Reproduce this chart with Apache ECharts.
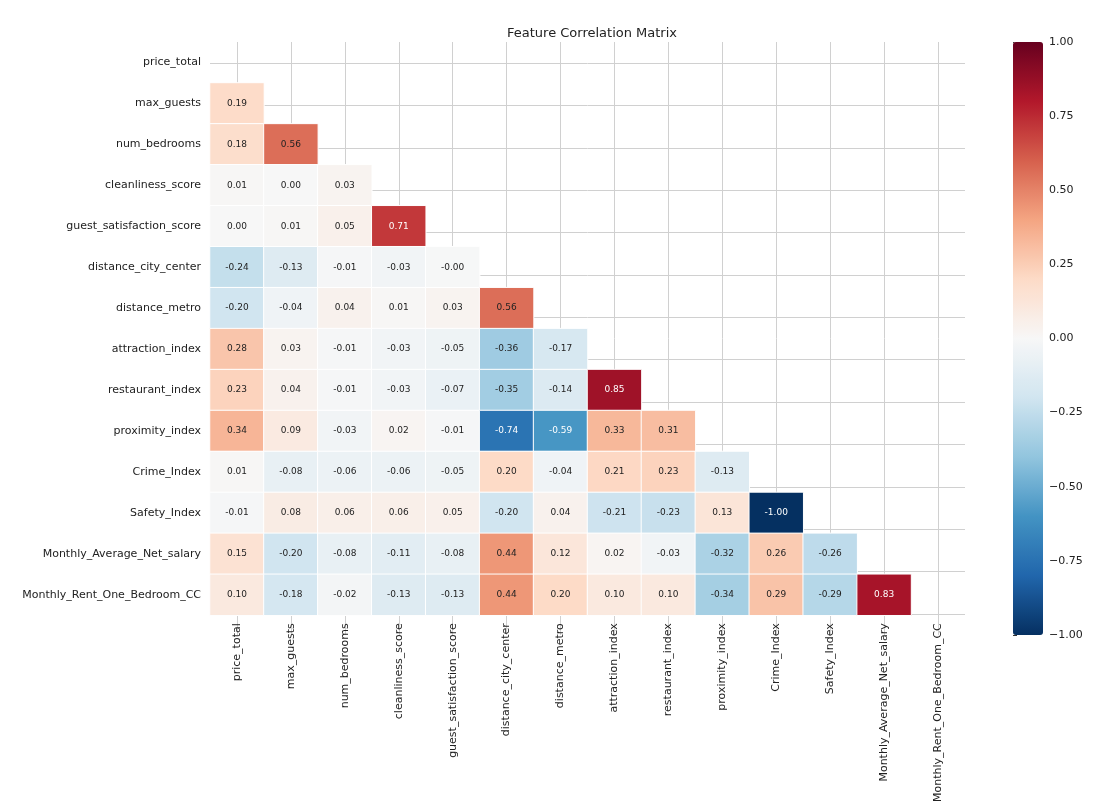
<!DOCTYPE html>
<html><head><meta charset="utf-8">
<script src="https://cdn.jsdelivr.net/npm/echarts@6/dist/echarts.min.js"></script>
<style>html,body{margin:0;padding:0;background:#fff}#c{width:1106px;height:805px}</style>
</head><body><div id="c"></div>
<script>
const features = ["price_total","max_guests","num_bedrooms","cleanliness_score","guest_satisfaction_score","distance_city_center","distance_metro","attraction_index","restaurant_index","proximity_index","Crime_Index","Safety_Index","Monthly_Average_Net_salary","Monthly_Rent_One_Bedroom_CC"];
const lowerTriangle = [
 [],
 [0.19],
 [0.18,0.56],
 [0.01,0.00,0.03],
 [0.00,0.01,0.05,0.71],
 [-0.24,-0.13,-0.01,-0.03,-0.004],
 [-0.20,-0.04,0.04,0.01,0.03,0.56],
 [0.28,0.03,-0.01,-0.03,-0.05,-0.36,-0.17],
 [0.23,0.04,-0.01,-0.03,-0.07,-0.35,-0.14,0.85],
 [0.34,0.09,-0.03,0.02,-0.01,-0.74,-0.59,0.33,0.31],
 [0.01,-0.08,-0.06,-0.06,-0.05,0.20,-0.04,0.21,0.23,-0.13],
 [-0.01,0.08,0.06,0.06,0.05,-0.20,0.04,-0.21,-0.23,0.13,-1.00],
 [0.15,-0.20,-0.08,-0.11,-0.08,0.44,0.12,0.02,-0.03,-0.32,0.26,-0.26],
 [0.10,-0.18,-0.02,-0.13,-0.13,0.44,0.20,0.10,0.10,-0.34,0.29,-0.29,0.83]
];
const colorbarTicks = [-1,-0.75,-0.5,-0.25,0,0.25,0.5,0.75,1];
const data = [];
lowerTriangle.forEach((row, r) => row.forEach((v, c) => {
  data.push({value:[c, r, v], label:{color: Math.abs(v) > 0.58 ? '#fff' : '#222'}});
}));
const half = [];
for (let i = 0; i < features.length*2; i++) half.push('h'+i);
const chart = echarts.init(document.getElementById('c'));
const G = {left:210, right:141, top:42, bottom:170};
const gridLine = {show:true, showMaxLine:false,
  interval:(i)=>i%2===1, lineStyle:{color:'#d0d0d0', width:1}};
chart.setOption({
  animation:false,
  textStyle:{fontFamily:'DejaVu Sans'},
  title:{text:'Feature Correlation Matrix', left:587, top:22, textAlign:'center',
    textStyle:{fontSize:13, fontWeight:'normal', color:'#222'}},
  grid:[G, G, {left:1013, width:30, top:42, bottom:170}],
  xAxis:[
    {type:'category', data:features, gridIndex:0, position:'bottom',
     axisLine:{show:false}, axisTick:{show:false}, splitLine:{show:false},
     axisLabel:{rotate:90, fontSize:11, color:'#222', margin:8}},
    {type:'category', data:half, gridIndex:1, show:true, boundaryGap:true,
     axisLine:{show:false}, axisTick:{show:false}, axisLabel:{show:false}, splitLine:gridLine},
    {type:'value', gridIndex:2, show:false, min:0, max:1}
  ],
  yAxis:[
    {type:'category', data:features, gridIndex:0, inverse:true,
     axisLine:{show:false}, axisTick:{show:false}, splitLine:{show:false},
     axisLabel:{fontSize:11, color:'#222', margin:9}},
    {type:'category', data:half, gridIndex:1, inverse:true,
     axisLine:{show:false}, axisTick:{show:false}, axisLabel:{show:false}, splitLine:gridLine},
    {type:'value', gridIndex:2, position:'right', min:-1, max:1, interval:0.25,
     axisLine:{show:false}, axisTick:{show:true, length:4, lineStyle:{color:'#333'}}, splitLine:{show:false},
     axisLabel:{fontSize:11, color:'#222', margin:6, formatter:v=>v.toFixed(2).replace('-','\u2212')}}
  ],
  visualMap:{type:'continuous', min:-1, max:1, calculable:false, seriesIndex:0,
    left:1013, top:42, itemWidth:30, itemHeight:593, padding:0, text:null, showLabel:false,
    inRange:{color:['#053061','#2166ac','#4393c3','#92c5de','#d1e5f0','#f7f7f7','#fddbc7','#f4a582','#d6604d','#b2182b','#67001f']}},
  series:[
    {type:'heatmap', xAxisIndex:0, yAxisIndex:0, data:data, z:3,
     itemStyle:{borderColor:'#fff', borderWidth:1},
     label:{show:true, fontSize:9, formatter:p=>p.value[2].toFixed(2)}},
    {type:'scatter', xAxisIndex:2, yAxisIndex:2, data:colorbarTicks.map(t=>[0,t]), symbolSize:0, silent:true}
  ]
});
</script></body></html>
